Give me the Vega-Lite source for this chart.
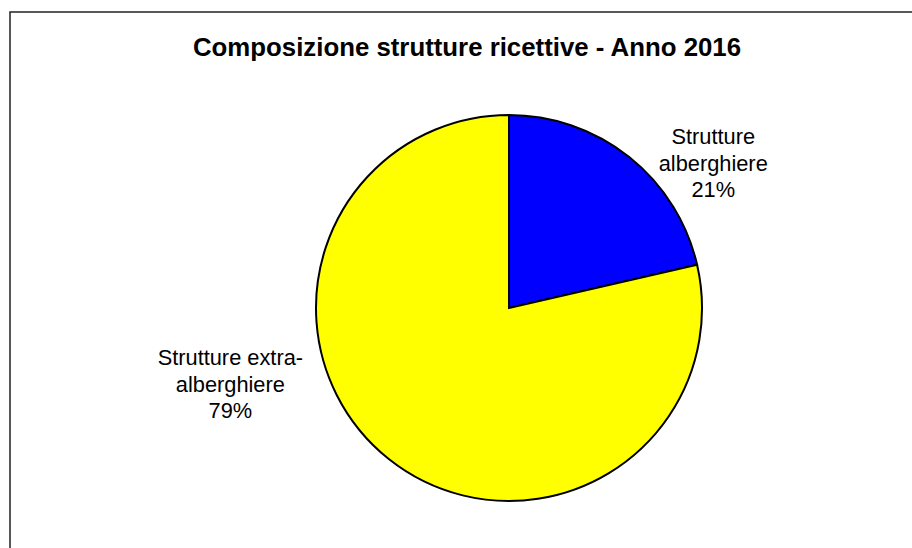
{
  "$schema": "https://vega.github.io/schema/vega-lite/v6.json",
  "autosize": {"type": "none"},
  "width": 998,
  "height": 592,
  "padding": {"left": 10, "top": 12, "right": -96, "bottom": -56},
  "background": "white",
  "view": {"stroke": "#222222", "strokeWidth": 1.5, "fill": "white"},
  "config": {"view": {"stroke": "#222222", "strokeWidth": 1.5}},
  "title": {
    "text": "Composizione strutture ricettive - Anno 2016",
    "font": "Liberation Sans",
    "fontSize": 25.8,
    "fontWeight": "bold",
    "color": "black",
    "anchor": "middle",
    "baseline": "alphabetic",
    "offset": 0,
    "dx": -42,
    "dy": 70
  },
  "data": {
    "values": [
      {"categoria": "Strutture alberghiere", "valore": 21.4, "etichetta": "Strutture\nalberghiere\n21%"},
      {"categoria": "Strutture extra-alberghiere", "valore": 78.6, "etichetta": "Strutture extra-\nalberghiere\n79%"}
    ]
  },
  "layer": [
    {
      "mark": {"type": "arc", "radius": 193, "stroke": "black", "strokeWidth": 2},
      "encoding": {
        "theta": {"field": "valore", "type": "quantitative", "stack": true},
        "color": {
          "field": "categoria",
          "type": "nominal",
          "scale": {"domain": ["Strutture alberghiere", "Strutture extra-alberghiere"], "range": ["#0000FF", "#FFFF00"]},
          "legend": null
        },
        "order": {"field": "categoria", "sort": "ascending"}
      }
    },
    {
      "transform": [{"filter": "datum.categoria == 'Strutture alberghiere'"}],
      "mark": {"type": "text", "theta": 0.956, "radius": 250, "dy": -26.5, "align": "center", "baseline": "middle", "lineBreak": "\n", "font": "Liberation Sans", "fontSize": 21.8, "lineHeight": 26.5, "color": "black"},
      "encoding": {"text": {"field": "etichetta", "type": "nominal"}}
    },
    {
      "transform": [{"filter": "datum.categoria == 'Strutture extra-alberghiere'"}],
      "mark": {"type": "text", "theta": 4.444, "radius": 289, "dy": -26.5, "align": "center", "baseline": "middle", "lineBreak": "\n", "font": "Liberation Sans", "fontSize": 21.8, "lineHeight": 26.5, "color": "black"},
      "encoding": {"text": {"field": "etichetta", "type": "nominal"}}
    }
  ]
}
